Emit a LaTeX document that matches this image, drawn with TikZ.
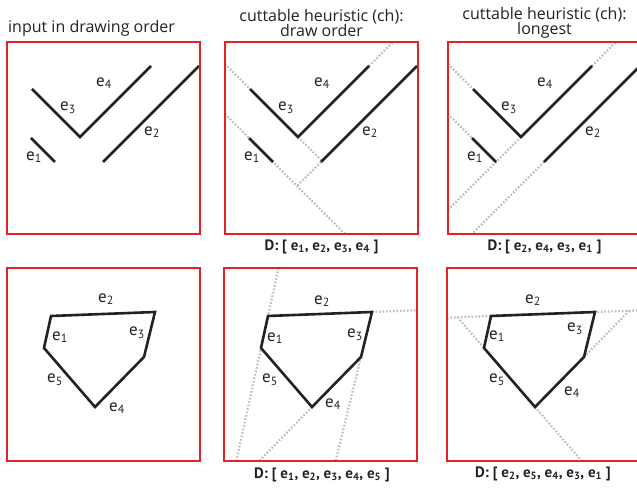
\documentclass[tikz,border=0pt]{standalone}
\usepackage{fontspec}
\setmainfont{PT Sans}
\newfontfamily\titlefont{Open Sans}
\usetikzlibrary{calc}
\definecolor{framered}{HTML}{E42127}
\definecolor{cutgrey}{HTML}{BDBDBD}
\definecolor{inkgrey}{HTML}{222222}
\tikzset{
  panelframe/.style={draw=framered, line width=2.6pt},
  edgeline/.style={draw=inkgrey, line width=2.6pt},
  cutline/.style={draw=cutgrey, line width=2.2pt, dash pattern=on 1.6pt off 1.9pt},
  edgelabel/.style={font=\fontsize{17}{17}\selectfont, inner sep=0pt, text=inkgrey},
  paneltitle/.style={font=\titlefont\fontsize{16}{15.5}\selectfont, align=center, inner sep=0pt, text=inkgrey},
  dlist/.style={font=\fontsize{15}{15}\selectfont\bfseries, anchor=base, inner sep=0pt, text=inkgrey},
}
\newcommand{\esub}[1]{e\textsubscript{#1}}
% end points of the four strokes (top row)
\newcommand{\strokepoints}{%
  \coordinate (A) at (32,89);
  \coordinate (V) at (80,137);
  \coordinate (B) at (151,66);
  \coordinate (C) at (103,162);
  \coordinate (D) at (199,66);
  \coordinate (E) at (31,138);
  \coordinate (F) at (55,162);
}
\newcommand{\strokes}{%
  \draw[edgeline] (A) -- (V) -- (B);
  \draw[edgeline] (C) -- (D);
  \draw[edgeline] (E) -- (F);
  \node[edgelabel] (l4) at (104,83) {\esub{4}};
  \node[edgelabel] (l3) at (68,108) {\esub{3}};
  \node[edgelabel] (l2) at (152,132) {\esub{2}};
  \node[edgelabel] (l1) at (34,157) {\esub{1}};
}
% corners of the polygon (bottom row)
\newcommand{\polypoints}{%
  \coordinate (P1) at (51,316);
  \coordinate (P2) at (155,312);
  \coordinate (P3) at (144,357);
  \coordinate (P4) at (95,407);
  \coordinate (P5) at (44,348);
}
\newcommand{\polygon}{%
  \draw[edgeline, line join=miter] (P1) -- (P2) -- (P3) -- (P4) -- (P5) -- cycle;
}

\begin{document}
\begin{tikzpicture}[x=1pt, y=-1pt]
  \useasboundingbox (0,0) rectangle (637,489);

  % titles
  \node[paneltitle, anchor=base west] (t1) at (8,33) {input in drawing order};
  \node[paneltitle] (t2) at (321.5,23) {cuttable heuristic (ch):\\draw order};
  \node[paneltitle] (t3) at (544.5,23) {cuttable heuristic (ch):\\longest};

  % top row: input
  \begin{scope}
    \strokepoints
    \strokes
    \draw[panelframe] (7,42) rectangle (200,234);
  \end{scope}

  % top row: draw order
  \begin{scope}[shift={(218,0)}]
    \strokepoints
    \draw[cutline] (7,114) -- (127,234);
    \draw[cutline] (C) -- (79,186);
    \draw[cutline] (7,64) -- (A);
    \draw[cutline] (V) -- (104,161);
    \draw[cutline] (B) -- (175,42);
    \strokes
    \draw[panelframe] (7,42) rectangle (200,234);
  \end{scope}

  % top row: longest
  \begin{scope}[shift={(441,0)}]
    \strokepoints
    \draw[cutline] (C) -- (31,234);
    \draw[cutline] (B) -- (175,42);
    \draw[cutline] (V) -- (7,210);
    \draw[cutline] (7,64) -- (A);
    \draw[cutline] (7,114) -- (E);
    \strokes
    \draw[panelframe] (7,42) rectangle (200,234);
  \end{scope}

  \node[dlist] (d2) at (321.5,250) {D: [ \esub{1}, \esub{2}, \esub{3}, \esub{4} ]};
  \node[dlist] (d3) at (544.5,250) {D: [ \esub{2}, \esub{4}, \esub{3}, \esub{1} ]};

  % bottom row: input
  \begin{scope}
    \polypoints
    \polygon
    \node[edgelabel] at (106,299) {\esub{2}};
    \node[edgelabel] at (60,337) {\esub{1}};
    \node[edgelabel] at (137,333) {\esub{3}};
    \node[edgelabel] at (55,380) {\esub{5}};
    \node[edgelabel] at (117,408) {\esub{4}};
    \draw[panelframe] (7,268) rectangle (200,461);
  \end{scope}

  % bottom row: draw order
  \begin{scope}[shift={(217,0)}]
    \polypoints
    \draw[cutline] (61.5,268) -- (19.3,461);
    \draw[cutline] (P2) -- (200,310.3);
    \draw[cutline] (P3) -- (118.6,461);
    \draw[cutline] (P4) -- (42.1,461);
    \polygon
    \node[edgelabel] at (105,301) {\esub{2}};
    \node[edgelabel] at (58,338) {\esub{1}};
    \node[edgelabel] at (138,335) {\esub{3}};
    \node[edgelabel] at (53,380) {\esub{5}};
    \node[edgelabel] at (116,404) {\esub{4}};
    \draw[panelframe] (7,268) rectangle (200,461);
  \end{scope}

  % bottom row: longest
  \begin{scope}[shift={(440,0)}]
    \polypoints
    \draw[cutline] (7,317.7) -- (200,310.3);
    \draw[cutline] (17.5,317.3) -- (P5);
    \draw[cutline] (P4) -- (141.7,461);
    \draw[cutline] (P3) -- (189.4,310.6);
    \polygon
    \node[edgelabel] at (93,300) {\esub{2}};
    \node[edgelabel] at (57,336) {\esub{1}};
    \node[edgelabel] at (135,329) {\esub{3}};
    \node[edgelabel] at (57,380) {\esub{5}};
    \node[edgelabel] at (132,392) {\esub{4}};
    \draw[panelframe] (7,268) rectangle (200,461);
  \end{scope}

  \node[dlist] (d5) at (322,478) {D: [ \esub{1}, \esub{2}, \esub{3}, \esub{4}, \esub{5} ]};
  \node[dlist] (d6) at (543,477) {D: [ \esub{2}, \esub{5}, \esub{4}, \esub{3}, \esub{1} ]};
\end{tikzpicture}
\end{document}
